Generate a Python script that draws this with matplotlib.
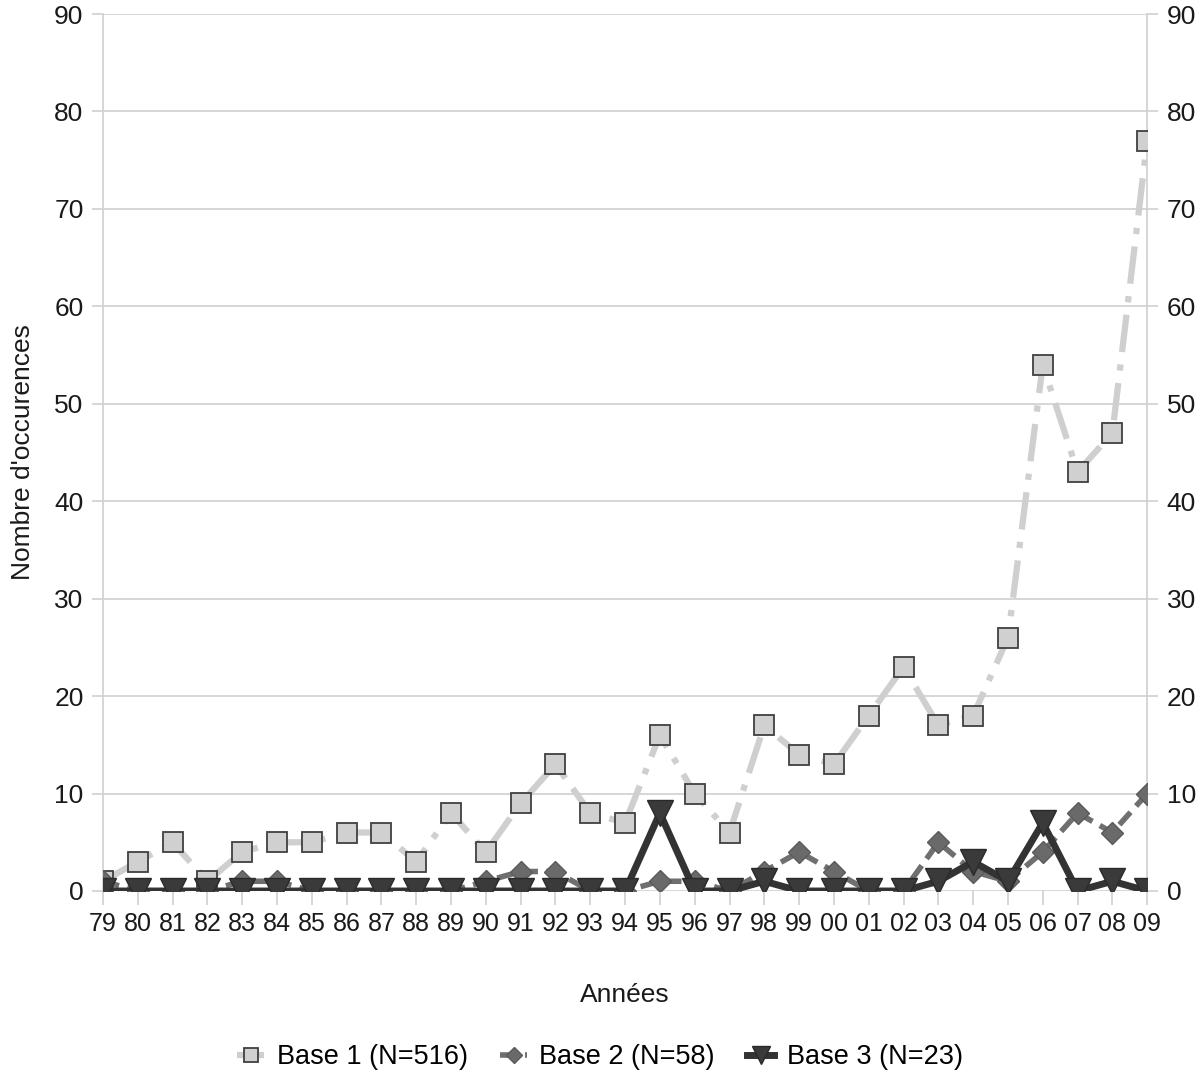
import matplotlib
matplotlib.use("Agg")
import matplotlib.pyplot as plt
import numpy as np

plt.rcParams['font.family'] = ['Liberation Sans', 'DejaVu Sans']

years = ["79","80","81","82","83","84","85","86","87","88","89","90","91","92","93","94",
         "95","96","97","98","99","00","01","02","03","04","05","06","07","08","09"]
base1 = [1,3,5,1,4,5,5,6,6,3,8,4,9,13,8,7,16,10,6,17,14,13,18,23,17,18,26,54,43,47,77]
base2 = [1,0,0,0,1,1,0,0,0,0,0,1,2,2,0,0,1,1,0,2,4,2,0,0,5,2,1,4,8,6,10]
base3 = [0,0,0,0,0,0,0,0,0,0,0,0,0,0,0,0,8,0,0,1,0,0,0,0,1,3,1,7,0,1,0]
labels = ["Base 1 (N=516)", "Base 2 (N=58)", "Base 3 (N=23)"]
yticks = [0,10,20,30,40,50,60,70,80,90]

fig = plt.figure(figsize=(12, 10.8), dpi=100)
ax = fig.add_axes([0.0858, 0.175, 0.8702, 0.812])
x = np.arange(len(years))

grid_c = '#d0d0d0'
ax.plot(x, base1, color='#cfcfcf', lw=4.5, dashes=[6, 2, 1, 2],
        marker='s', markersize=14, markerfacecolor='#d0d0d0',
        markeredgecolor='#404040', markeredgewidth=1.3, label=labels[0], zorder=3)
ax.plot(x, base2, color='#6f6f6f', lw=4, dashes=[3, 1.5],
        marker='D', markersize=11, markerfacecolor='#6a6a6a',
        markeredgecolor='#5a5a5a', markeredgewidth=1, label=labels[1], zorder=4)
ax.plot(x, base3, color='#333333', lw=5, linestyle='-',
        marker='v', markersize=19, markerfacecolor='#3a3a3a',
        markeredgecolor='#2a2a2a', markeredgewidth=1, label=labels[2], zorder=5)

ax.set_xlim(0, len(years) - 1)
ax.set_ylim(0, 90)
ax.set_yticks(yticks)
ax.set_xticks(x)
ax.set_xticklabels(years)
ax.yaxis.grid(True, color=grid_c, lw=1.2)
ax.set_axisbelow(True)
for s in ['top', 'bottom']:
    ax.spines[s].set_visible(False)
for s in ['left', 'right']:
    ax.spines[s].set_color(grid_c)
    ax.spines[s].set_linewidth(1.2)
ax.tick_params(axis='y', length=8, color=grid_c, width=1.2, labelsize=19, pad=6,
               labelcolor='#1a1a1a', left=True, right=True, labelright=True)
ax.tick_params(axis='x', length=10, color=grid_c, width=1.2, labelsize=18, pad=5,
               labelcolor='#1a1a1a')
ax.set_ylabel("Nombre d'occurences", fontsize=19, color='#1a1a1a', labelpad=14)
ax.set_xlabel("Années", fontsize=19, color='#1a1a1a', labelpad=34)

leg = fig.legend(loc='center', bbox_to_anchor=(0.5, 0.021), ncol=3, frameon=False,
                 fontsize=19.5, handlelength=1.0, columnspacing=1.2, handletextpad=0.45,
                 markerscale=0.7)
fig.savefig("out.png", dpi=100)
